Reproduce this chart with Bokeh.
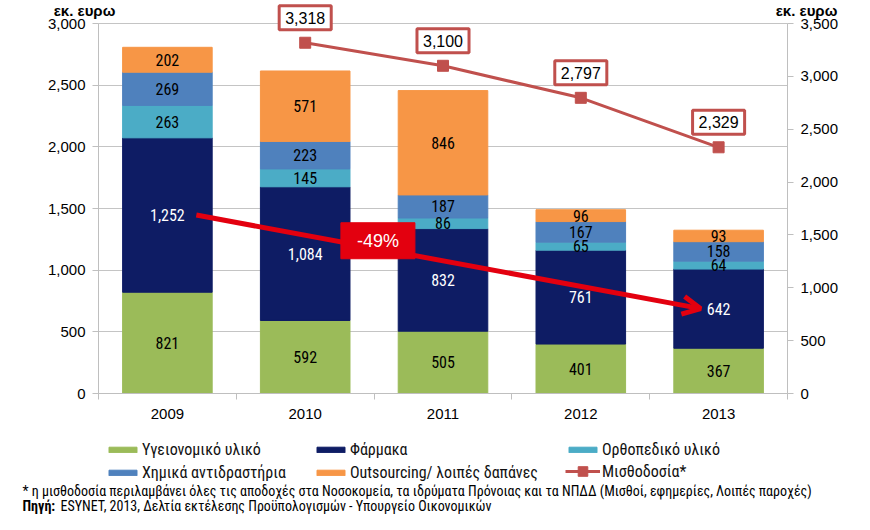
from bokeh.plotting import figure
from bokeh.models import (ColumnDataSource, Range1d, LinearAxis, SingleIntervalTicker, FixedTicker,
                          NumeralTickFormatter, Label, LabelSet, Legend, LegendItem, Arrow, OpenHead)
from bokeh.core.properties import value
from bokeh.embed import file_html
from bokeh.resources import INLINE

# ---------------- data ----------------
years = ["2009", "2010", "2011", "2012", "2013"]
ygeionomiko = [821, 592, 505, 401, 367]
farmaka = [1252, 1084, 832, 761, 642]
orthopediko = [263, 145, 86, 65, 64]
chimika = [269, 223, 187, 167, 158]
outsourcing = [202, 571, 846, 96, 93]
misthodosia_years = ["2010", "2011", "2012", "2013"]
misthodosia = [3318, 3100, 2797, 2329]
left_max, right_max, tick_step = 3000, 3500, 500

series_keys = ["ygeionomiko", "farmaka", "orthopediko", "chimika", "outsourcing"]
series_names = ["Υγειονομικό υλικό", "Φάρμακα", "Ορθοπεδικό υλικό",
                "Χημικά αντιδραστήρια", "Outsourcing/ λοιπές δαπάνες"]
line_name = "Μισθοδοσία*"
unit_title = "εκ. ευρω"
footnote = ("* η μισθοδοσία περιλαμβάνει όλες τις αποδοχές στα Νοσοκομεία, τα ιδρύματα Πρόνοιας "
            "και τα ΝΠΔΔ (Μισθοί, εφημερίες, Λοιπές παροχές)")
source_head = "Πηγή:"
source_text = "ESYNET, 2013, Δελτία εκτέλεσης Προϋπολογισμών - Υπουργείο Οικονομικών"

# ---------------- styles / geometry ----------------
colors = ["#9BBB59", "#0E1C64", "#4BACC6", "#4F81BD", "#F79646"]
label_colors = ["black", "white", "black", "black", "black"]
LINE_RED = "#C0504D"
ARROW_RED = "#E3000F"
GRAY = "#BFBFBF"
REG = "Liberation Sans"
NARROW = "Roboto Condensed, Roboto"

W, H = 854, 514
PX_LEFT, PX_RIGHT, PX_ZERO, PX_TOP = 98, 787, 393, 23   # pixel positions of the axes
n = len(years)
xper = (PX_RIGHT - PX_LEFT) / n
yper = (PX_ZERO - PX_TOP) / left_max
x_range = Range1d(0.5 - PX_LEFT / xper, n + 0.5 + (W - PX_RIGHT) / xper)
y_range = Range1d(-(H - PX_ZERO) / yper, left_max + PX_TOP / yper)
k = right_max / left_max

p = figure(width=W, height=H, x_range=x_range, y_range=y_range,
           output_backend="svg", toolbar_location=None,
           min_border_left=0, min_border_right=0, min_border_top=0, min_border_bottom=0)
p.extra_y_ranges = {"right": Range1d(y_range.start * k, y_range.end * k)}
p.outline_line_color = None
p.xgrid.visible = False
p.ygrid.grid_line_color = "#C4C4C4"
p.ygrid.ticker = SingleIntervalTicker(interval=tick_step)
p.ygrid.bounds = (0, left_max)
p.ygrid.cross_bounds = (0.5, n + 0.5)
p.background_fill_color = "white"
p.border_fill_color = "white"

xs = list(range(1, n + 1))
data = dict(x=xs, ygeionomiko=ygeionomiko, farmaka=farmaka, orthopediko=orthopediko,
            chimika=chimika, outsourcing=outsourcing)
src = ColumnDataSource(data)
bars = p.vbar_stack(series_keys, x="x", width=0.65, color=colors, source=src)

# segment labels
bottom = [0] * n
for key, tc in zip(series_keys, label_colors):
    vals = data[key]
    mids = [b + v / 2 for b, v in zip(bottom, vals)]
    lsrc = ColumnDataSource(dict(x=xs, y=mids, t=[f"{v:,}" for v in vals]))
    p.add_layout(LabelSet(x="x", y="y", text="t", source=lsrc, text_align="center",
                          text_baseline="middle", text_color=tc, text_font=value(NARROW),
                          text_font_size="16px"))
    bottom = [b + v for b, v in zip(bottom, vals)]

# payroll line
lx = [xs[years.index(y)] for y in misthodosia_years]
line_r = p.line(lx, misthodosia, y_range_name="right", line_color=LINE_RED, line_width=3)
sq_r = p.scatter(lx, misthodosia, y_range_name="right", marker="square", size=11,
                 fill_color=LINE_RED, line_color=LINE_RED)
for x, v in zip(lx, misthodosia):
    p.add_layout(Label(x=x, y=v, y_range_name="right", text=f"{v:,}", text_align="center",
                       text_baseline="middle", y_offset=25, text_font=REG,
                       text_font_size="16px", text_color="black",
                       background_fill_color="white", border_line_color=LINE_RED,
                       border_line_width=3, padding=6))

# arrow for pharmaceuticals change
y0 = ygeionomiko[0] + farmaka[0] / 2
y1 = ygeionomiko[-1] + farmaka[-1] / 2
x0 = xs[0] + 0.21
x1 = xs[-1] - 0.13
p.add_layout(Arrow(x_start=x0, y_start=y0, x_end=x1, y_end=y1, line_color=ARROW_RED, line_width=5,
                   end=OpenHead(line_color=ARROW_RED, line_width=5, size=18)))
pct = round((farmaka[-1] / farmaka[0] - 1) * 100)
t = 0.36
p.add_layout(Label(x=x0 + t * (x1 - x0), y=y0 + t * (y1 - y0), y_offset=8, text=f"{pct}%",
                   text_align="center", text_baseline="middle", text_color="white",
                   text_font=REG, text_font_size="18px",
                   background_fill_color=ARROW_RED, border_line_color=ARROW_RED,
                   padding=(16, 8)))

# axes
ya = p.yaxis[0]
ya.ticker = SingleIntervalTicker(interval=tick_step)
ya.formatter = NumeralTickFormatter(format="0,0")
ya.fixed_location = 0.5
ya.bounds = (0, left_max)
right = LinearAxis(y_range_name="right", ticker=SingleIntervalTicker(interval=tick_step),
                   formatter=NumeralTickFormatter(format="0,0"), fixed_location=n + 0.5,
                   bounds=(0, right_max))
p.add_layout(right, "right")
for ax in [ya, right]:
    ax.axis_line_color = GRAY
    ax.major_tick_line_color = GRAY
    ax.major_tick_out = 6
    ax.major_tick_in = 0
    ax.minor_tick_line_color = None
    ax.major_label_text_font = REG
    ax.major_label_text_font_size = "15px"
    ax.major_label_text_color = "black"
    ax.major_label_standoff = 7

xa = p.xaxis[0]
xa.ticker = FixedTicker(ticks=xs, minor_ticks=[x - 0.5 for x in xs] + [xs[-1] + 0.5])
xa.major_label_overrides = {x: y for x, y in zip(xs, years)}
xa.fixed_location = 0
xa.bounds = (0.5, n + 0.5)
xa.axis_line_color = GRAY
xa.major_tick_line_color = None
xa.minor_tick_line_color = GRAY
xa.minor_tick_out = 6
xa.minor_tick_in = 0
xa.major_label_text_font = REG
xa.major_label_text_font_size = "15px"
xa.major_label_text_color = "black"
xa.major_label_standoff = 9

# unit titles (screen units measured from the bottom-left of the canvas)
for xpos in (84, 806):
    p.add_layout(Label(x=xpos, y=H - 10, x_units="screen", y_units="screen", text=unit_title,
                       text_align="center", text_baseline="middle", text_font=REG,
                       text_font_size="15px", text_font_style="bold", text_color="black"))

# legends
def mk_legend(items, loc, gh):
    lg = Legend(items=items, location=loc, orientation="vertical", glyph_width=35, glyph_height=gh,
                label_height=20, label_standoff=2, spacing=3, padding=0, margin=0,
                border_line_color=None, background_fill_alpha=0,
                label_text_font=NARROW, label_text_font_size="16px", label_text_color="#111111")
    p.add_layout(lg)
    return lg

mk_legend([LegendItem(label=series_names[0], renderers=[bars[0]]),
           LegendItem(label=series_names[3], renderers=[bars[3]])], (105, 32), 7)
mk_legend([LegendItem(label=series_names[1], renderers=[bars[1]]),
           LegendItem(label=series_names[4], renderers=[bars[4]])], (313, 32), 7)
mk_legend([LegendItem(label=series_names[2], renderers=[bars[2]])], (565, 55), 7)
mk_legend([LegendItem(label=line_name, renderers=[line_r, sq_r])], (565, 31), 24)

# footnotes
p.add_layout(Label(x=22, y=24, x_units="screen", y_units="screen", text=footnote,
                   text_align="left", text_baseline="middle", text_font=NARROW,
                   text_font_size="14px", text_color="black"))
p.add_layout(Label(x=22, y=9, x_units="screen", y_units="screen", text=source_head,
                   text_align="left", text_baseline="middle", text_font=NARROW,
                   text_font_size="14px", text_font_style="bold", text_color="black"))
p.add_layout(Label(x=60, y=9, x_units="screen", y_units="screen", text=source_text,
                   text_align="left", text_baseline="middle", text_font=NARROW,
                   text_font_size="14px", text_color="black"))

open("out.html", "w").write(file_html(p, INLINE))
